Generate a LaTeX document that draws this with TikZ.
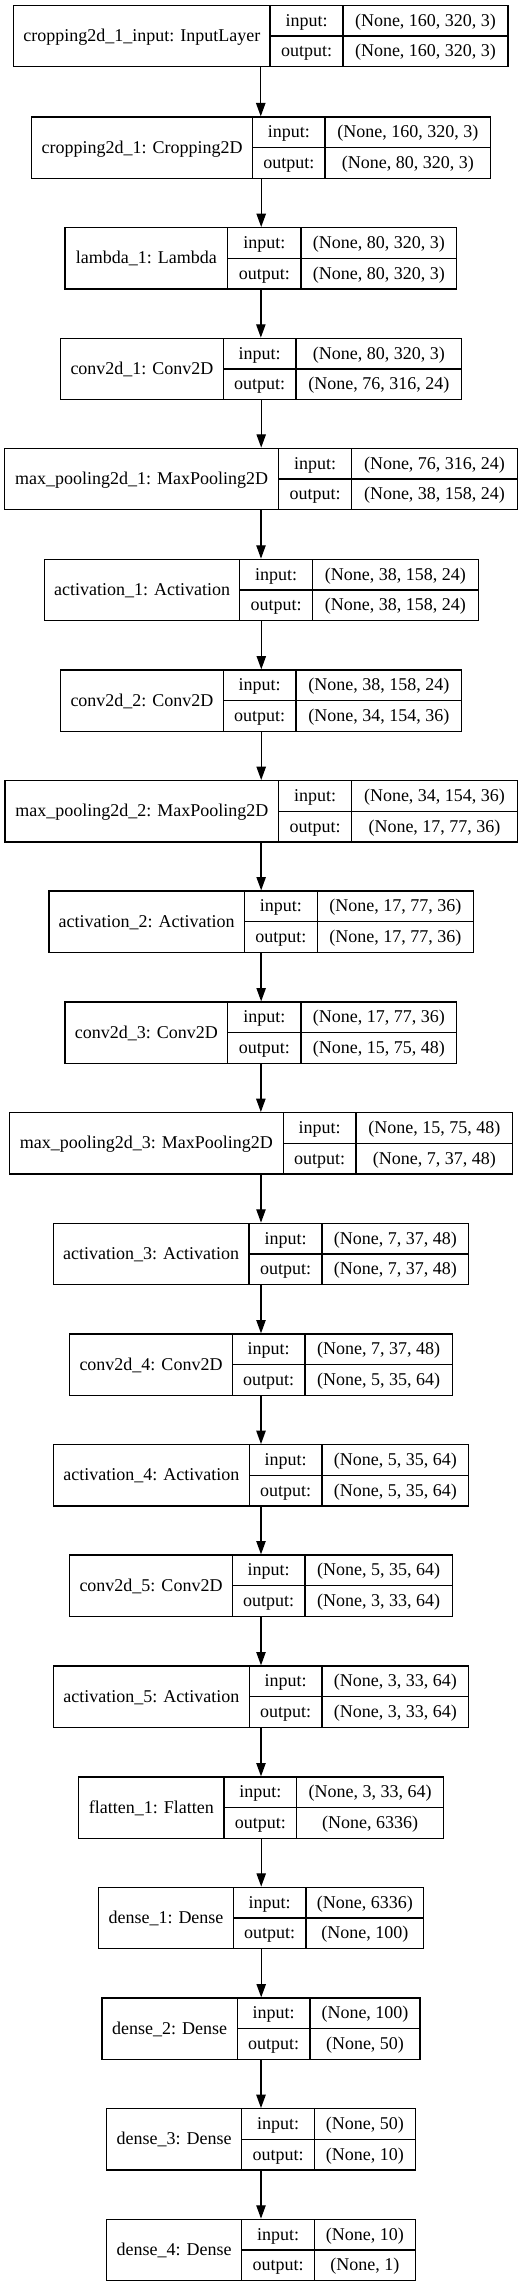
\documentclass[tikz,border=0pt]{standalone}
\usepackage{fontspec}
\setmainfont{Liberation Serif}
\usetikzlibrary{arrows.meta,fit}
\tikzset{
  boxsty/.style={draw=black, line width=1pt, inner sep=0pt},
  cellline/.style={draw=black, line width=1pt},
  txt/.style={inner sep=0pt, anchor=base, font=\fontsize{13.5pt}{16pt}\selectfont},
  arr/.style={draw=black, line width=1pt, -{Triangle[length=10pt,width=7pt]}}
}
% #1 name, #2 top, #3 left, #4 div1, #5 div2, #6 right, #7 label, #8 input, #9 output
\newcommand\mylayer[9]{%
  \node[boxsty, fit={(#3,#2) (#6,#2+61.3)}] (#1) {};
  \draw[cellline] (#4,#2) -- (#4,#2+61.3);
  \draw[cellline] (#5,#2) -- (#5,#2+61.3);
  \draw[cellline] (#4,#2+30.65) -- (#6,#2+30.65);
  \node[txt] (#1-lab) at ({(#3+#4)/2},#2+36.2) {#7};
  \node[txt] (#1-ik) at ({(#4+#5)/2},#2+20.8) {input:};
  \node[txt] (#1-ok) at ({(#4+#5)/2},#2+51.4) {output:};
  \node[txt] (#1-iv) at ({(#5+#6)/2},#2+20.8) {#8};
  \node[txt] (#1-ov) at ({(#5+#6)/2},#2+51.4) {#9};
}
\begin{document}
\begin{tikzpicture}[x=0.75pt,y=-0.75pt]
\useasboundingbox (0,0) rectangle (527,2287);
\mylayer{b1}{5.3}{13.5}{270}{343}{508}{cropping2d\_1\_input: InputLayer}{(None, 160, 320, 3)}{(None, 160, 320, 3)}
\mylayer{b2}{117}{31.7}{252.7}{325}{490.7}{cropping2d\_1: Cropping2D}{(None, 160, 320, 3)}{(None, 80, 320, 3)}
\mylayer{b3}{227.7}{65}{227.7}{301}{456.7}{lambda\_1: Lambda}{(None, 80, 320, 3)}{(None, 80, 320, 3)}
\mylayer{b4}{338.3}{60.7}{223.3}{296}{461.7}{conv2d\_1: Conv2D}{(None, 80, 320, 3)}{(None, 76, 316, 24)}
\mylayer{b5}{448.3}{4.7}{278.7}{351.7}{517.3}{max\_pooling2d\_1: MaxPooling2D}{(None, 76, 316, 24)}{(None, 38, 158, 24)}
\mylayer{b6}{559.3}{44.3}{239.7}{312.3}{478.3}{activation\_1: Activation}{(None, 38, 158, 24)}{(None, 38, 158, 24)}
\mylayer{b7}{670}{60.7}{223.3}{296}{461.7}{conv2d\_2: Conv2D}{(None, 38, 158, 24)}{(None, 34, 154, 36)}
\mylayer{b8}{780.7}{5}{278.7}{351.7}{517.3}{max\_pooling2d\_2: MaxPooling2D}{(None, 34, 154, 36)}{(None, 17, 77, 36)}
\mylayer{b9}{891}{49}{244.3}{317.3}{473.3}{activation\_2: Activation}{(None, 17, 77, 36)}{(None, 17, 77, 36)}
\mylayer{b10}{1002}{65}{227.7}{301}{456.7}{conv2d\_3: Conv2D}{(None, 17, 77, 36)}{(None, 15, 75, 48)}
\mylayer{b11}{1112.7}{9.3}{283.3}{356}{512.7}{max\_pooling2d\_3: MaxPooling2D}{(None, 15, 75, 48)}{(None, 7, 37, 48)}
\mylayer{b12}{1223.3}{53.3}{249}{322}{468.7}{activation\_3: Activation}{(None, 7, 37, 48)}{(None, 7, 37, 48)}
\mylayer{b13}{1334}{69.7}{232.3}{305}{452.3}{conv2d\_4: Conv2D}{(None, 7, 37, 48)}{(None, 5, 35, 64)}
\mylayer{b14}{1444.7}{53.3}{249.3}{322}{468.7}{activation\_4: Activation}{(None, 5, 35, 64)}{(None, 5, 35, 64)}
\mylayer{b15}{1555}{69.7}{232.3}{305}{452.3}{conv2d\_5: Conv2D}{(None, 5, 35, 64)}{(None, 3, 33, 64)}
\mylayer{b16}{1666}{53.3}{249.3}{322}{468.7}{activation\_5: Activation}{(None, 3, 33, 64)}{(None, 3, 33, 64)}
\mylayer{b17}{1777}{78.7}{224}{296.7}{443.7}{flatten\_1: Flatten}{(None, 3, 33, 64)}{(None, 6336)}
\mylayer{b18}{1887.3}{98.7}{233.3}{306}{423.7}{dense\_1: Dense}{(None, 6336)}{(None, 100)}
\mylayer{b19}{1998}{102}{237.3}{310}{420}{dense\_2: Dense}{(None, 100)}{(None, 50)}
\mylayer{b20}{2108.7}{106.7}{241.7}{314.3}{415.3}{dense\_3: Dense}{(None, 50)}{(None, 10)}
\mylayer{b21}{2219.3}{106.7}{241.7}{314.3}{415.3}{dense\_4: Dense}{(None, 10)}{(None, 1)}
\foreach \a/\b in {1/2,2/3,3/4,4/5,5/6,6/7,7/8,8/9,9/10,10/11,11/12,12/13,13/14,14/15,15/16,16/17,17/18,18/19,19/20,20/21}
  \draw[arr] (b\a.south) -- (b\a.south |- b\b.north);
\end{tikzpicture}
\end{document}
